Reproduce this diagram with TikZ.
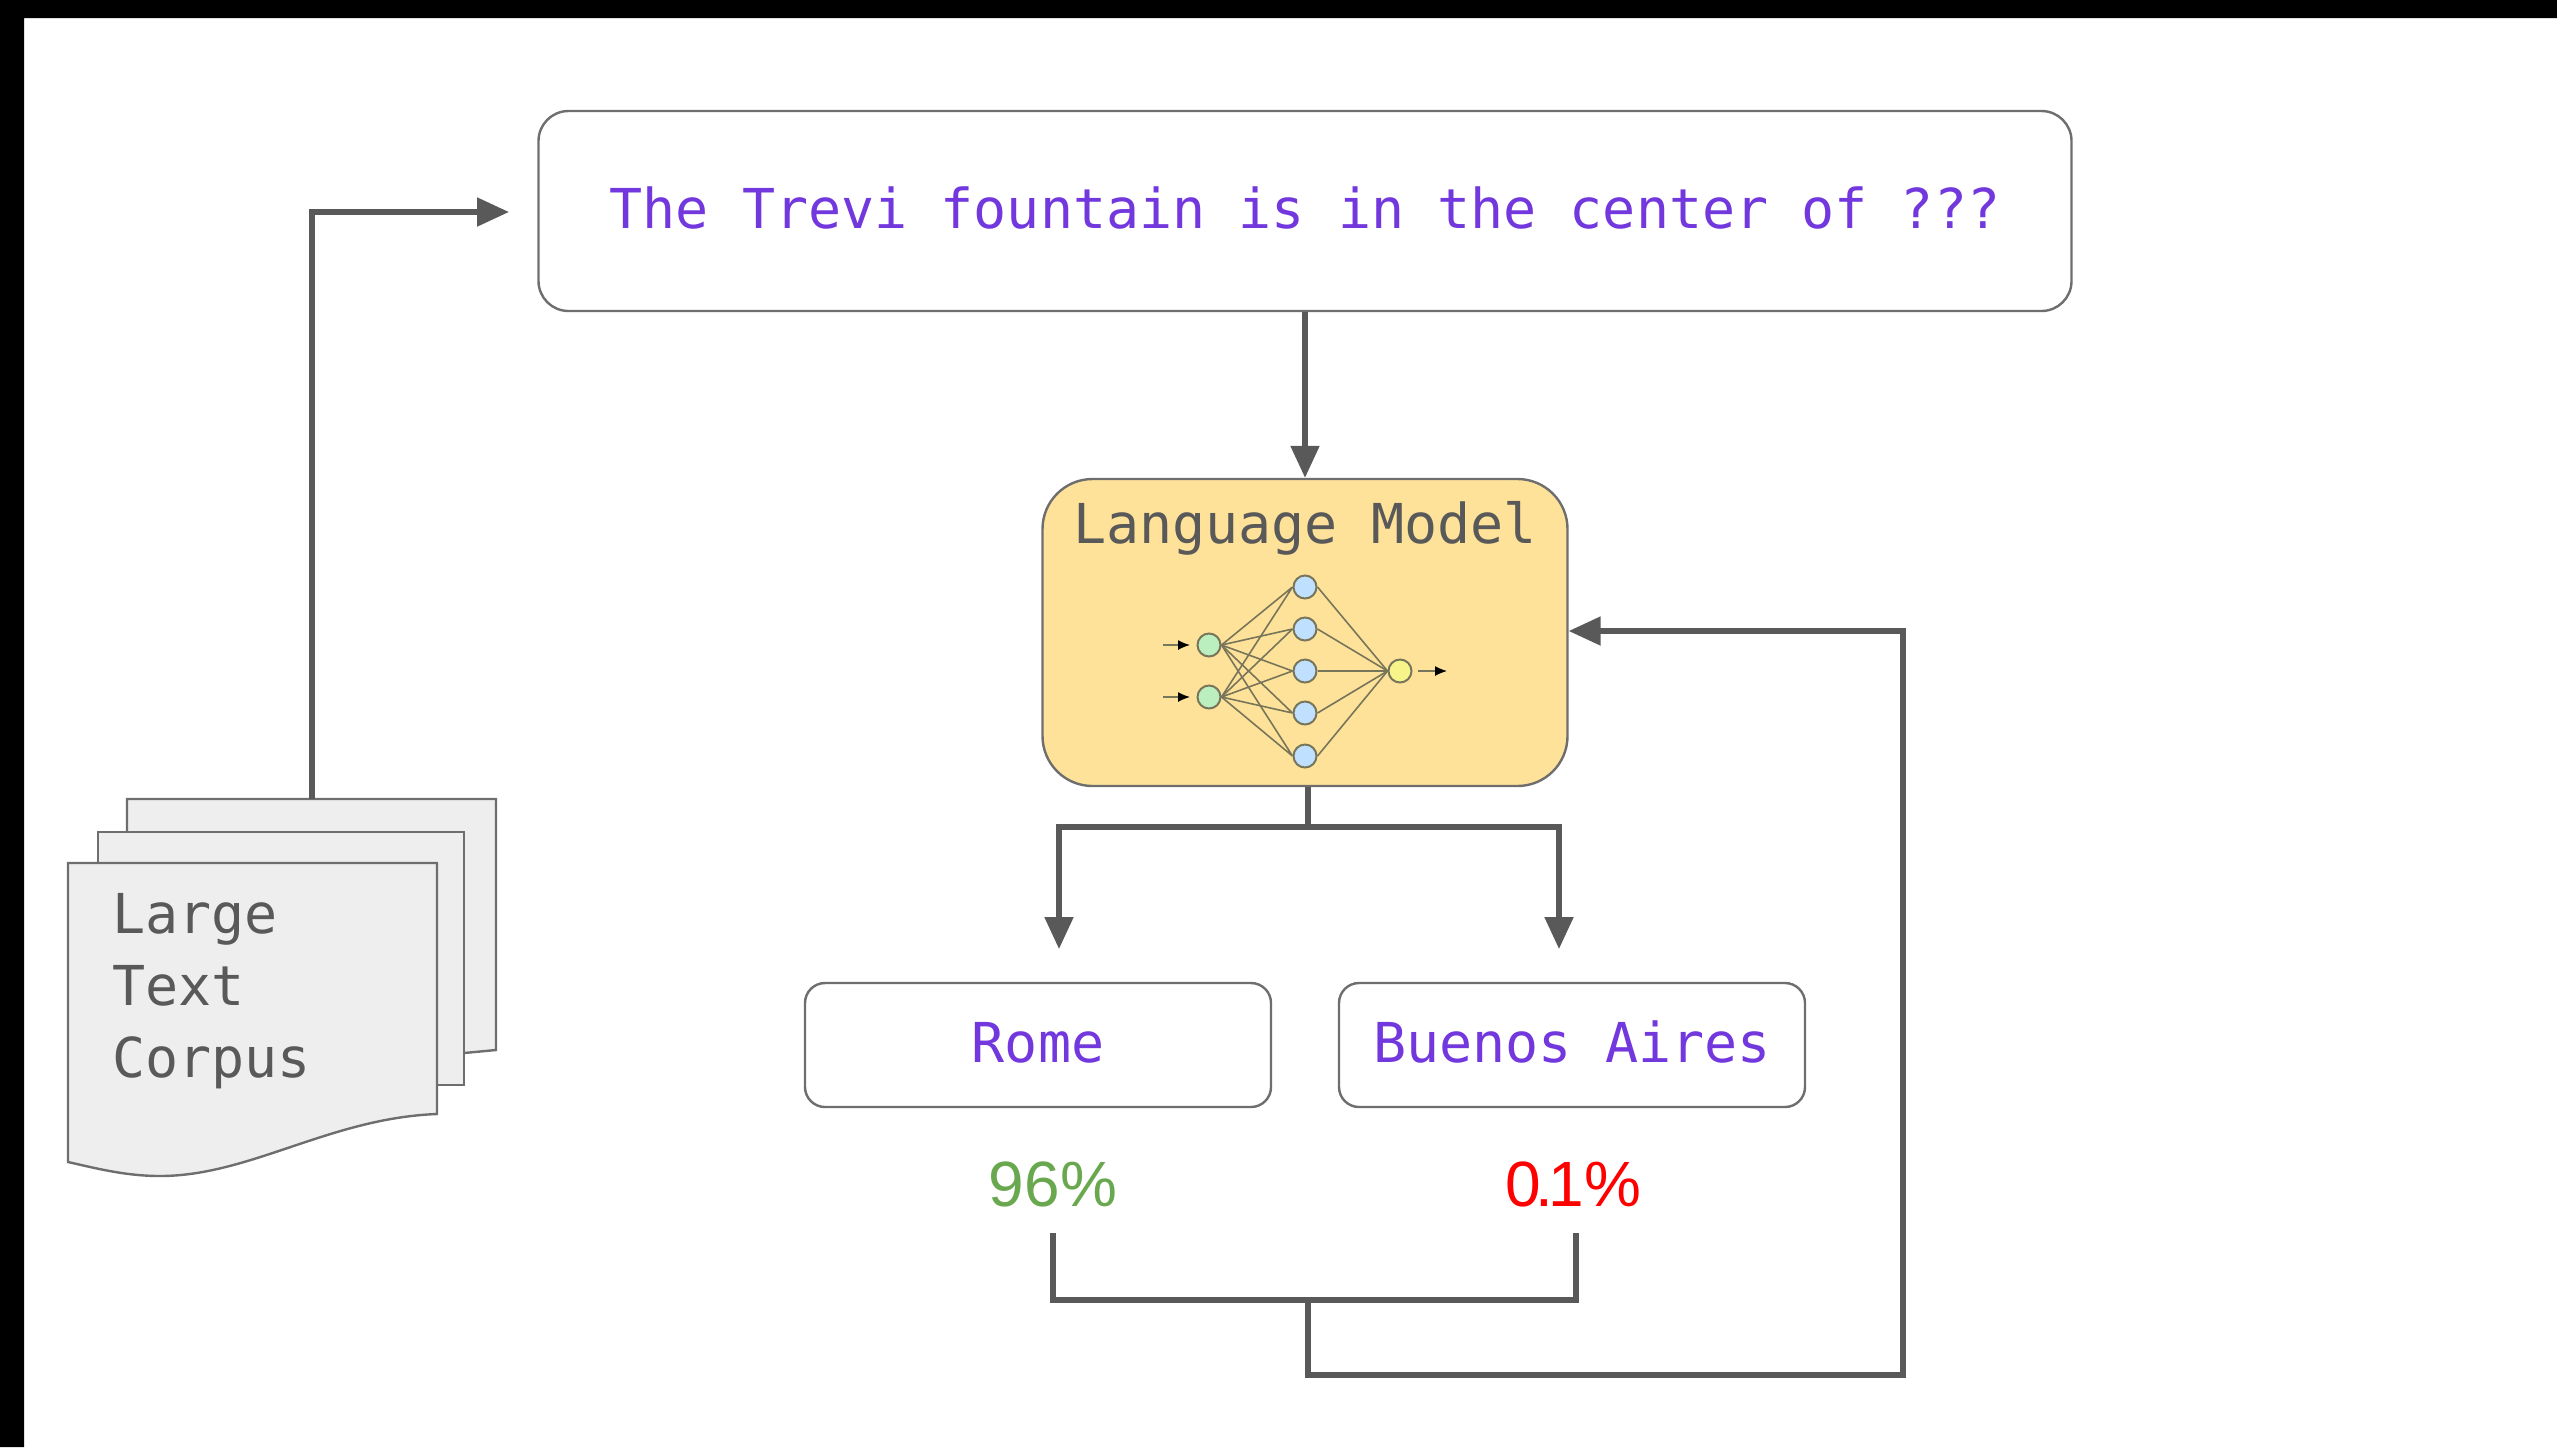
\documentclass[tikz,border=0pt]{standalone}
\usepackage{fontspec}
\setmainfont{Liberation Sans}
\setmonofont{DejaVu Sans Mono}
\usetikzlibrary{arrows.meta}
\definecolor{linegray}{HTML}{595959}
\definecolor{boxgray}{HTML}{6E6E6E}
\definecolor{textpurple}{HTML}{7238DE}
\definecolor{modelfill}{HTML}{FFE299}
\definecolor{pagefill}{HTML}{EEEEEE}
\definecolor{inputfill}{HTML}{BCEFC0}
\definecolor{hiddenfill}{HTML}{BFE0FF}
\definecolor{outputfill}{HTML}{F7F589}
\definecolor{edgegray}{HTML}{77755A}
\definecolor{pctgreen}{HTML}{6AA84F}
\tikzstyle{answer}=[shape=rectangle, rounded corners=10pt, draw=boxgray, line width=1.2pt, fill=white, inner sep=0pt, minimum height=62pt, minimum width=233pt, text height=20pt, text depth=2.1pt, text=textpurple, font=\fontsize{27.5pt}{33pt}\ttfamily]
\tikzstyle{conn}=[draw=linegray, line width=2.6pt]
\tikzstyle{connarrow}=[conn, -{Triangle[length=16pt, width=14pt]}]
\tikzstyle{page}=[draw=boxgray, line width=1.2pt, fill=pagefill]
\tikzstyle{neuron}=[shape=circle, draw=edgegray, line width=1pt, inner sep=0pt, minimum size=11.5pt]
\tikzstyle{synapse}=[draw=edgegray, line width=0.8pt]
\tikzstyle{tinyarrow}=[draw=edgegray, line width=0.7pt, -{Latex[length=6pt, width=5pt, black]}]
\tikzstyle{pct}=[inner sep=0pt, font=\fontsize{32pt}{36pt}\selectfont]
\begin{document}
\begin{tikzpicture}[x=0.5pt, y=-0.5pt]
\useasboundingbox (0,0) rectangle (2557,1447);
\fill[black] (0,0) rectangle (2557,18) (0,0) rectangle (24,1447);
\node[answer, minimum height=100pt, minimum width=766.5pt, rounded corners=15pt] (query) at (1305,211) {The Trevi fountain is in the center of ???};
\node[shape=rectangle, rounded corners=25pt, draw=boxgray, line width=1.2pt, fill=modelfill, inner sep=0pt, minimum height=153.5pt, minimum width=262.5pt] (model) at (1305,632.5) {};
\node[text=linegray, inner sep=0pt, anchor=base, font=\fontsize{27.5pt}{33pt}\ttfamily] (title) at (1305,543) {Language Model};
\node[answer] (rome) at (1038,1045) {Rome};
\node[answer] (buenos) at (1572,1045) {Buenos Aires};
\node[pct, text=pctgreen] (romepct) at (1053,1184) {96\%};
\node[pct, text=red] (buenospct) at (1573,1184) {0\kern-2.5pt.\kern-2.5pt1\%};
%pages
\draw[page] (127,799) -- (496,799) -- (496,1050) -- (464,1053) -- (127,1053) -- cycle;
\draw[page] (98,832) -- (464,832) -- (464,1085) -- (437,1085) -- (98,1085) -- cycle;
\draw[page] (68,863) -- (437,863) -- (437,1114) .. controls (330,1118) and (250,1176) .. (160,1176) .. controls (125,1176) and (95,1168) .. (68,1162) -- cycle;
\foreach \i/\y/\t in {1/933/Large,2/1005/Text,3/1077/Corpus}{
	\node[text=linegray, inner sep=0pt, anchor=base west, font=\fontsize{27.5pt}{33pt}\ttfamily] (corpus\i) at (112,\y) {\t};
}
%network
\foreach \i/\y in {1/645,2/697}{
	\node[neuron, fill=inputfill] (in\i) at (1209,\y) {};
	\coordinate (ia\i) at (1163,\y);
	\coordinate (ib\i) at (1190,\y);
	\draw[tinyarrow] (ia\i) -- (ib\i);
}
\node[neuron, fill=outputfill] (out) at (1400,671) {};
\coordinate (oa) at (1418,671);
\coordinate (ob) at (1447,671);
\draw[tinyarrow] (oa) -- (ob);
\foreach \i/\y in {1/587,2/629,3/671,4/713,5/756}{
	\node[neuron, fill=hiddenfill] (h\i) at (1305,\y) {};
	\draw[synapse] (in1.east) -- (h\i.west) (in2.east) -- (h\i.west);
	\draw[synapse] (h\i.east) -- (out.west);
}
%connectors
\coordinate (turn1) at (312,212);
\coordinate (corpustop) at (312,799);
\coordinate (querytip) at (509,212);
\draw[connarrow] (corpustop) -- (turn1) -- (querytip);
\draw[connarrow] (query) -- (model);
\coordinate (split) at (1308,827);
\coordinate (splitl) at (1059,827);
\coordinate (splitr) at (1559,827);
\coordinate (tipl) at (1059,949);
\coordinate (tipr) at (1559,949);
\draw[conn] (model.south -| split) -- (split);
\draw[connarrow] (split) -- (splitl) -- (tipl);
\draw[connarrow] (split) -- (splitr) -- (tipr);
\coordinate (joinl) at (1053,1233);
\coordinate (joinr) at (1576,1233);
\coordinate (join) at (1308,1300);
\coordinate (back) at (1903,1375);
\draw[conn] (joinl) -- (1053,1300) -- (1576,1300) -- (joinr);
\draw[connarrow] (join) -- (1308,1375) -- (back) -- (1903,631) -- (model.east |- 0,631);
\end{tikzpicture}
\end{document}
